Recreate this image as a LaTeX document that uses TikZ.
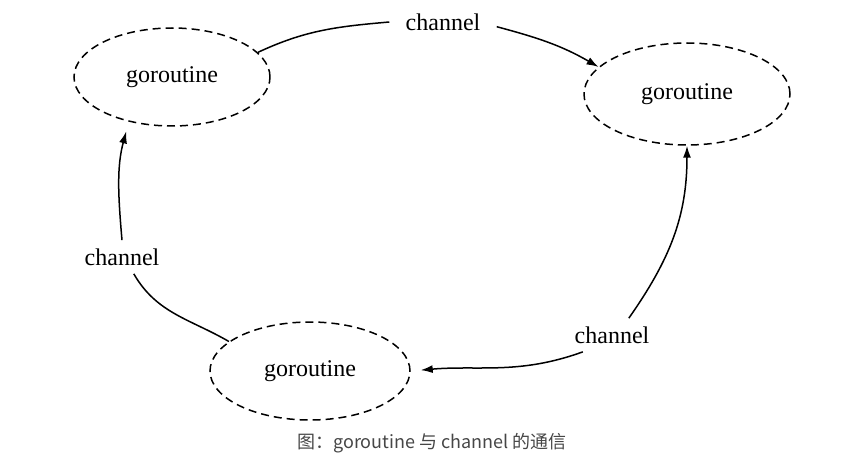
\documentclass[tikz,border=0pt]{standalone}
\usepackage{fontspec}
\setmainfont{Liberation Serif}
\newfontfamily\cjkfont{Noto Sans CJK SC}
\usetikzlibrary{shapes.geometric,arrows.meta}
\definecolor{capgray}{RGB}{70,70,70}
\tikzset{
  gor/.style={draw,ellipse,dash pattern=on 4pt off 2.5pt,line width=0.75pt,minimum width=98pt,minimum height=49pt,inner sep=0pt,font=\fontsize{12}{14}\selectfont},
  chan/.style={inner xsep=8pt,inner ysep=4pt,font=\fontsize{12}{14}\selectfont},
  msg/.style={line width=0.75pt},
  send/.style={msg,-{Latex[length=6pt,width=4pt]}}
}
\begin{document}
\begin{tikzpicture}[x=0.5pt,y=0.5pt]
\useasboundingbox (0,0) rectangle (868,-460);
% goroutines
\node[gor] (gl) at (172,-77) {goroutine};
\node[gor,minimum width=103pt,minimum height=51pt] (gr) at (687,-94) {goroutine};
\node[gor,minimum width=100pt] (gb) at (310,-371) {goroutine};
% channels
\node[chan] (ct) at (443,-22) {channel};
\node[chan] (cl) at (122,-257) {channel};
\node[chan] (cr) at (612,-335) {channel};
% top: left to right
\draw[msg] (gl.16) to[out=25,in=185] (ct.west);
\draw[send] (ct.-5) to[out=-15,in=150] (gr.163);
% right side: bottom channel up and left
\draw[send] (cr.45) to[out=55,in=-90] (gr.south);
\draw[send,shorten >=5pt] (cr.-150) to[out=200,in=5] (gb.east);
% left side
\draw[msg] (gb.160) to[out=150,in=-60] (cl.-55);
\draw[send,shorten >=5pt] (cl.north) to[out=95,in=-105] (gl.-134);
% caption
\node[font=\cjkfont\fontsize{9}{11}\selectfont,text=capgray] (cap) at (432,-443) {图：goroutine 与 channel 的通信};
\end{tikzpicture}
\end{document}
